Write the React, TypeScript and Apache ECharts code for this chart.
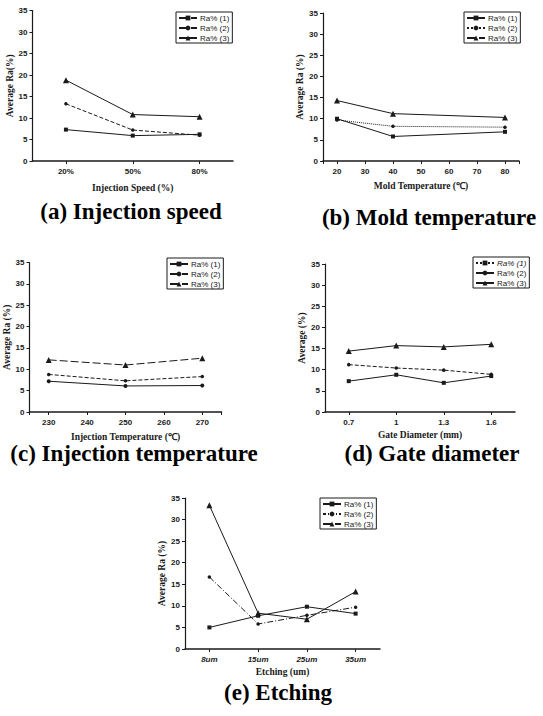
import React, { useEffect, useRef } from 'react';
import * as echarts from 'echarts';

// ---- data ----
const seriesNames = ['Ra% (1)', 'Ra% (2)', 'Ra% (3)'];

const speedCats = ['20%', '50%', '80%'];
const speedRa1 = [7.3, 5.9, 6.2];
const speedRa2 = [13.3, 7.2, 6.0];
const speedRa3 = [18.8, 10.8, 10.3];

const moldTemps = [20, 40, 80];
const moldRa1 = [10.0, 5.8, 6.9];
const moldRa2 = [9.7, 8.2, 8.0];
const moldRa3 = [14.3, 11.2, 10.3];

const injTemps = [230, 250, 270];
const injRa1 = [7.2, 6.1, 6.2];
const injRa2 = [8.8, 7.3, 8.3];
const injRa3 = [12.2, 11.0, 12.6];

const gateCats = ['0.7', '1', '1.3', '1.6'];
const gateRa1 = [7.3, 8.8, 6.9, 8.5];
const gateRa2 = [11.2, 10.4, 9.9, 8.9];
const gateRa3 = [14.4, 15.7, 15.4, 16.0];

const etchCats = ['8um', '15um', '25um', '35um'];
const etchRa1 = [5.0, 7.7, 9.8, 8.2];
const etchRa2 = [16.7, 5.8, 7.8, 9.7];
const etchRa3 = [33.3, 8.3, 6.9, 13.3];

const titles = [
  '(a) Injection speed',
  '(b) Mold temperature',
  '(c) Injection temperature',
  '(d) Gate diameter',
  '(e) Etching',
];
const xNames = [
  'Injection Speed (%)',
  'Mold Temperature (\u2103)',
  'Injection Temperature (\u2103)',
  'Gate Diameter (mm)',
  'Etching (um)',
];
const yNames = ['Average Ra(%)', 'Average Ra (%)', 'Average Ra (%)', 'Average (%)', 'Average Ra (%)'];

const INK = '#1a1a1a';
const SANS = "'Liberation Sans', Arial, sans-serif";
const SERIF = "'Liberation Serif', 'Times New Roman', serif";

type Panel = {
  grid: { left: number; top: number; width: number; height: number };
  x: any;
  ys: number[][];
  xs?: number[];
  legendPos: { left: number; top: number };
  legendItalic1?: boolean;
  lineTypes: any[];
  legendLineTypes: any[];
  symbols: string[];
  xNameGap: number;
  yNameGap: number;
  title: { x: number; y: number };
  italicX?: boolean;
};

export default function App() {
  const ref = useRef<HTMLDivElement>(null);
  useEffect(() => {
    if (!ref.current) return;
    const chart = echarts.init(ref.current, undefined, { renderer: 'svg' });

    const panels: Panel[] = [
      {
        grid: { left: 32.5, top: 10.5, width: 200.5, height: 150.5 },
        x: { type: 'category', data: speedCats },
        ys: [speedRa1, speedRa2, speedRa3],
        legendPos: { left: 176, top: 12 },
        lineTypes: ['solid', 'dashed', 'solid'],
        legendLineTypes: ['dashed', 'dashed', 'solid'],
        symbols: ['rect', 'circle', 'triangle'],
        xNameGap: 22,
        yNameGap: 17,
        title: { x: 131, y: 211 },
      },
      {
        grid: { left: 323, top: 13, width: 196, height: 148 },
        x: { type: 'value', min: 15, max: 85, splitNumber: 7 },
        xs: moldTemps,
        ys: [moldRa1, moldRa2, moldRa3],
        legendPos: { left: 464, top: 12 },
        lineTypes: ['solid', 'dotted', 'solid'],
        legendLineTypes: ['solid', 'dotted', 'dashed'],
        symbols: ['rect', 'circle', 'triangle'],
        xNameGap: 20,
        yNameGap: 16,
        title: { x: 429, y: 217 },
      },
      {
        grid: { left: 29.5, top: 262.5, width: 192, height: 149.5 },
        x: { type: 'value', min: 225, max: 275, splitNumber: 5 },
        xs: injTemps,
        ys: [injRa1, injRa2, injRa3],
        legendPos: { left: 167, top: 258 },
        lineTypes: ['solid', 'dashed', [8, 3]],
        legendLineTypes: ['solid', 'dashed', 'dashed'],
        symbols: ['circle', 'circle', 'triangle'],
        xNameGap: 20,
        yNameGap: 16,
        title: { x: 134, y: 453 },
      },
      {
        grid: { left: 325, top: 264, width: 190, height: 148 },
        x: { type: 'category', data: gateCats },
        ys: [gateRa1, gateRa2, gateRa3],
        legendPos: { left: 473, top: 257 },
        legendItalic1: true,
        lineTypes: ['solid', 'dashed', 'solid'],
        legendLineTypes: ['dotted', 'solid', 'solid'],
        symbols: ['rect', 'circle', 'triangle'],
        xNameGap: 18,
        yNameGap: 17,
        title: { x: 432, y: 453 },
      },
      {
        grid: { left: 185, top: 498, width: 195, height: 151 },
        x: { type: 'category', data: etchCats },
        ys: [etchRa1, etchRa2, etchRa3],
        legendPos: { left: 320, top: 498 },
        lineTypes: ['solid', [6, 2, 1, 2], 'solid'],
        legendLineTypes: ['solid', [3, 2, 1, 2], 'dashed'],
        symbols: ['rect', 'circle', 'triangle'],
        xNameGap: 18,
        yNameGap: 17,
        title: { x: 278, y: 692 },
        italicX: true,
      },
    ];

    const grid: any[] = [];
    const xAxis: any[] = [];
    const yAxis: any[] = [];
    const series: any[] = [];
    const legend: any[] = [];
    const graphic: any[] = [];

    panels.forEach((p, i) => {
      grid.push({ ...p.grid, containLabel: false });
      const isCat = p.x.type === 'category';
      xAxis.push({
        ...p.x,
        gridIndex: i,
        boundaryGap: isCat ? true : undefined,
        name: xNames[i],
        nameLocation: 'middle',
        nameGap: p.xNameGap,
        nameTextStyle: { fontFamily: SERIF, fontWeight: 'bold', fontSize: 9.5, color: INK },
        axisLine: { lineStyle: { color: INK, width: 1.5 } },
        axisTick: { show: true, length: 3, alignWithLabel: true, lineStyle: { color: INK } },
        axisLabel: {
          fontFamily: SANS,
          fontWeight: 'bold',
          fontSize: 8,
          color: INK,
          margin: 6,
          fontStyle: p.italicX ? 'italic' : 'normal',
          formatter: isCat ? undefined : (v: number) => (v % 10 === 0 ? String(v) : ''),
        },
        splitLine: { show: false },
      });
      yAxis.push({
        type: 'value',
        gridIndex: i,
        min: 0,
        max: 35,
        interval: 5,
        name: yNames[i],
        nameLocation: 'middle',
        nameRotate: 90,
        nameGap: p.yNameGap,
        nameTextStyle: { fontFamily: SERIF, fontWeight: 'bold', fontSize: 9.5, color: INK },
        axisLine: { show: true, lineStyle: { color: INK, width: 1.2 } },
        axisTick: { show: true, length: 3, lineStyle: { color: INK } },
        axisLabel: { fontFamily: SANS, fontWeight: 'bold', fontSize: 8, color: INK, margin: 5 },
        splitLine: { show: false },
      });
      p.ys.forEach((vals, j) => {
        series.push({
          type: 'line',
          name: seriesNames[j],
          xAxisIndex: i,
          yAxisIndex: i,
          data: p.xs ? p.xs.map((x, k) => [x, vals[k]]) : vals,
          symbol: p.symbols[j],
          symbolSize: j === 2 ? 6 : j === 0 ? 4 : 3.5,
          lineStyle: { color: INK, width: 1, type: p.lineTypes[j] },
          itemStyle: { color: INK },
        });
      });
      legend.push({
        orient: 'vertical',
        left: p.legendPos.left,
        top: p.legendPos.top,
        borderColor: INK,
        borderWidth: 1,
        padding: [2, 3, 1, 2],
        itemGap: 2,
        itemWidth: 18,
        itemHeight: 6,
        textStyle: { fontFamily: SANS, fontSize: 8, color: INK, padding: [0, 0, 0, -2] },
        selectedMode: false,
        data: seriesNames.map((n, j) => ({
          name: n,
          lineStyle: { type: p.legendLineTypes[j] },
          textStyle: j === 0 && p.legendItalic1 ? { fontStyle: 'italic' } : undefined,
        })),
      });
      graphic.push({
        type: 'text',
        x: p.title.x,
        y: p.title.y,
        style: {
          text: titles[i],
          fill: '#000',
          fontFamily: SERIF,
          fontWeight: 'bold',
          fontSize: 23,
          textAlign: 'center',
          textVerticalAlign: 'middle',
        },
      });
    });

    chart.setOption({
      animation: false,
      backgroundColor: '#fff',
      grid,
      xAxis,
      yAxis,
      series,
      legend,
      graphic,
    });
    return () => chart.dispose();
  }, []);
  return (
    <div
      ref={ref}
      style={{ position: 'absolute', left: 0, top: 0, width: 543, height: 716, background: '#fff' }}
    />
  );
}
